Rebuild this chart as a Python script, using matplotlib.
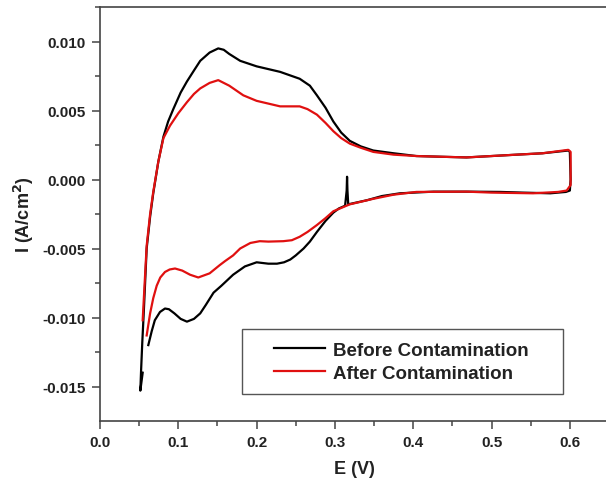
"""
Cyclic voltammogram before / after contamination
"""
import numpy as np
import matplotlib
matplotlib.use("Agg")
import matplotlib.pyplot as plt
from matplotlib.patches import Rectangle

#%%
# data

# before contamination (black): anodic sweep, reversal at 0.6 V, cathodic sweep back
E_before = [0.0545, 0.0515, 0.0525, 0.0540, 0.0560, 0.0596, 0.064, 0.068, 0.0745, 0.081,
            0.087, 0.0936, 0.103, 0.111, 0.120, 0.128, 0.140, 0.151, 0.158, 0.165, 0.179, 0.200,
            0.230, 0.255, 0.268, 0.277, 0.288, 0.298, 0.308, 0.319, 0.333, 0.349,
            0.375, 0.404, 0.435, 0.468, 0.500, 0.532, 0.565, 0.598, 0.600, 0.601,
            0.600, 0.595, 0.575, 0.540, 0.511, 0.470, 0.426, 0.383, 0.360, 0.341,
            0.325, 0.317, 0.3160, 0.3155, 0.3150, 0.313, 0.305, 0.298, 0.288, 0.277,
            0.268, 0.260, 0.250, 0.243, 0.235, 0.226, 0.215, 0.200, 0.185, 0.170,
            0.155, 0.145, 0.135, 0.128, 0.120, 0.111, 0.103, 0.095, 0.088, 0.083,
            0.0766, 0.070, 0.066, 0.0617]
I_before = [-0.0140, -0.0153, -0.0138, -0.0118, -0.0095, -0.0050, -0.0027, -0.0010, 0.0013, 0.0031,
            0.0042, 0.0051, 0.0063, 0.0071, 0.0079, 0.0086, 0.0092, 0.0095, 0.0094, 0.0091, 0.0086, 0.0082,
            0.0078, 0.0073, 0.0068, 0.0061, 0.0052, 0.0042, 0.0034, 0.0028, 0.0024, 0.0021,
            0.0019, 0.0017, 0.00165, 0.0016, 0.0017, 0.0018, 0.0019, 0.0021, 0.0020, 0.0000,
            -0.0008, -0.0009, -0.0010, -0.00095, -0.0009, -0.00088, -0.00088, -0.0010, -0.0012, -0.0015,
            -0.0017, -0.0018, -0.0008, 0.0002, -0.0008, -0.0019, -0.0021, -0.0024, -0.0030, -0.0038,
            -0.0045, -0.0050, -0.0055, -0.0058, -0.0060, -0.0061, -0.0061, -0.0060, -0.0063, -0.0069,
            -0.0077, -0.0082, -0.0091, -0.0097, -0.0101, -0.0103, -0.0101, -0.0097, -0.0094, -0.00935,
            -0.0096, -0.0102, -0.0110, -0.0120]

# after contamination (red)
E_after = [0.0545, 0.0575, 0.0596, 0.064, 0.068, 0.0745, 0.081, 0.0894, 0.100, 0.111,
           0.120, 0.128, 0.140, 0.151, 0.165, 0.183, 0.200, 0.215, 0.230, 0.255,
           0.265, 0.277, 0.288, 0.298, 0.308, 0.319, 0.333, 0.349, 0.375, 0.404,
           0.435, 0.468, 0.500, 0.532, 0.565, 0.598, 0.601, 0.601, 0.596, 0.585,
           0.553, 0.500, 0.468, 0.404, 0.375, 0.349, 0.319, 0.298, 0.288, 0.277,
           0.265, 0.255, 0.245, 0.234, 0.215, 0.204, 0.192, 0.179, 0.170, 0.160,
           0.153, 0.140, 0.1255, 0.115, 0.105, 0.0958, 0.089, 0.083, 0.077, 0.0724,
           0.068, 0.064, 0.0596]
I_after = [-0.0102, -0.0070, -0.0048, -0.0025, -0.0009, 0.0013, 0.0030, 0.0039, 0.0048, 0.0056,
           0.0062, 0.0066, 0.0070, 0.0072, 0.0068, 0.0061, 0.0057, 0.0055, 0.0053, 0.0053,
           0.0051, 0.0047, 0.0041, 0.0035, 0.0030, 0.0026, 0.0023, 0.0020, 0.0018, 0.0017,
           0.00165, 0.0016, 0.0017, 0.0018, 0.0019, 0.00215, 0.0020, -0.0004, -0.0008, -0.0009,
           -0.0010, -0.00095, -0.00088, -0.0009, -0.0011, -0.0014, -0.0018, -0.0023, -0.0028, -0.0033,
           -0.0038, -0.00415, -0.0044, -0.00447, -0.0045, -0.00447, -0.0046, -0.0050, -0.0055, -0.0059,
           -0.0062, -0.0068, -0.0071, -0.0069, -0.0066, -0.00645, -0.00652, -0.0067, -0.0071, -0.0077,
           -0.0086, -0.0097, -0.0113]

x_ticks = [0.0, 0.1, 0.2, 0.3, 0.4, 0.5, 0.6]
y_ticks = [-0.015, -0.010, -0.005, 0.000, 0.005, 0.010]

#%%
plt.rcParams['font.family'] = ['Liberation Sans', 'DejaVu Sans']
plt.rcParams['font.weight'] = 'bold'

fig = plt.figure(figsize=(6.06, 4.85), dpi=100)
ax = fig.add_axes([100/606, 63/485, 509/606, 414/485])

ax.plot(E_before, I_before, color='black', lw=1.6, label='Before Contamination')
ax.plot(E_after, I_after, color='#e01010', lw=1.6, label='After Contamination')

ax.set_xlim(0, 0.65)
ax.set_ylim(-0.0175, 0.0125)
ax.set_xticks(x_ticks)
ax.set_xticks(np.arange(0.05, 0.65, 0.1), minor=True)
ax.set_yticks(y_ticks)
ax.set_yticks(np.arange(-0.0125, 0.0126, 0.005), minor=True)
ax.set_xticklabels(['%.1f' % v for v in x_ticks])
ax.set_yticklabels(['%.3f' % v for v in y_ticks])

for s in ax.spines.values():
    s.set_color('#444444')
    s.set_linewidth(1.2)
ax.spines['right'].set_visible(False)
ax.tick_params(which='major', direction='out', length=6, width=1.1, color='#444444',
               labelsize=11, labelcolor='#222222', pad=4)
ax.tick_params(which='minor', direction='out', length=3.5, width=1.1, color='#444444')

ax.set_xlabel('E (V)', fontsize=13, fontweight='bold', color='#222222', labelpad=8)
ax.set_ylabel('I (A/cm$^\\mathbf{2}$)', fontsize=13, fontweight='bold', color='#222222', labelpad=5)

# legend box drawn separately so that the side margins match the original
ax.add_patch(Rectangle((0.278, 0.065), 0.632, 0.157, transform=ax.transAxes,
                       facecolor='white', edgecolor='#555555', lw=1.0, zorder=4))
leg = ax.legend(loc='center', bbox_to_anchor=(0.592, 0.1435), fontsize=13.5,
                frameon=False, handlelength=2.7, labelspacing=0.3, handletextpad=0.4,
                borderpad=0, borderaxespad=0)
leg.set_zorder(5)
for t in leg.get_texts():
    t.set_fontweight('bold')
    t.set_color('#222222')

fig.savefig('out.png', dpi=100)
